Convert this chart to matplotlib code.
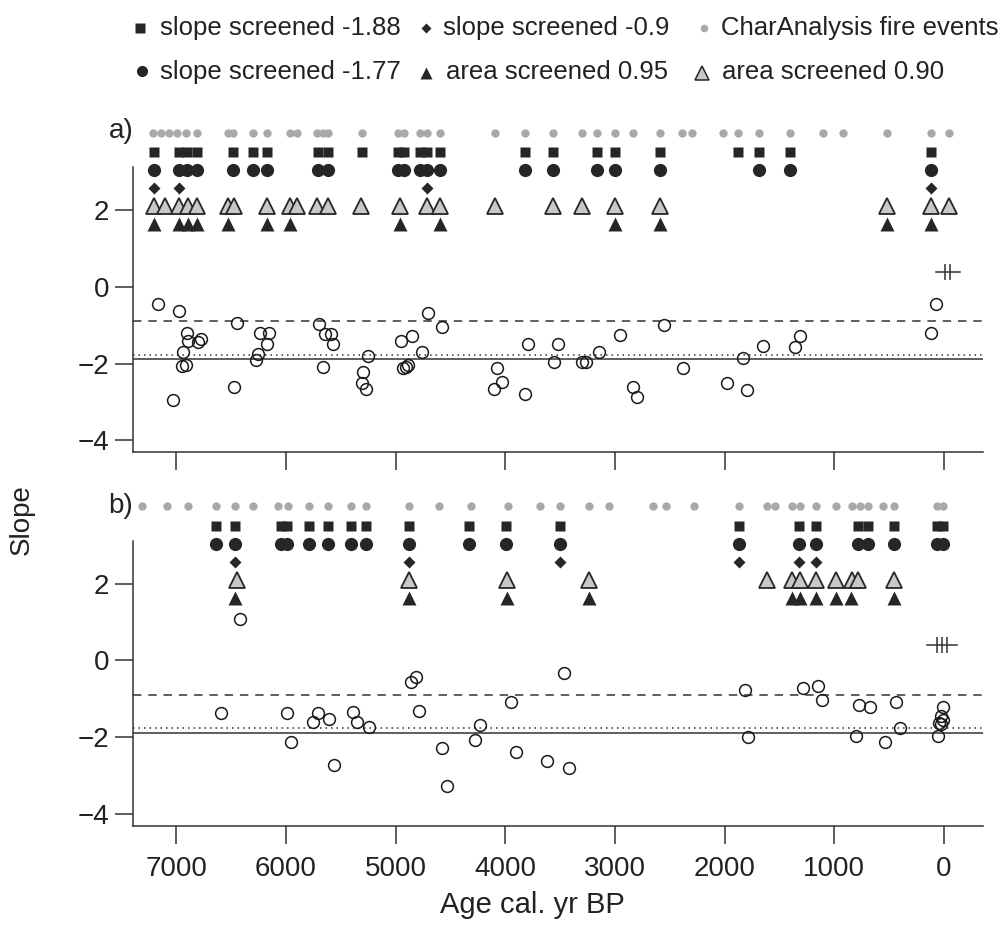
import matplotlib
matplotlib.use("Agg")
import matplotlib.pyplot as plt
from matplotlib.lines import Line2D

plt.rcParams['font.family'] = ['Liberation Sans', 'DejaVu Sans']

# ---- panel a) data (age cal. yr BP) ----
a_fire = [7208, 7138, 7065, 6989, 6913, 6807, 6524, 6479, 6296, 6174, 5962, 5895,
          5718, 5663, 5613, 5308, 4975, 4922, 4777, 4710, 4594, 4093, 3820, 3562,
          3303, 3160, 2999, 2838, 2589, 2391, 2300, 2017, 1881, 1686, 1404, 1106,
          918, 522, 119, -46]
a_slope188 = [7201, 6975, 6900, 6807, 6479, 6296, 6174, 5704, 5613, 5308, 4975, 4922,
              4777, 4710, 4594, 3820, 3562, 3160, 2999, 2589, 1881, 1686, 1404, 119]
a_slope177 = [7201, 6975, 6900, 6807, 6479, 6296, 6174, 5704, 5613, 4975, 4922, 4777,
              4710, 4594, 3820, 3562, 3160, 2999, 2589, 1686, 1404, 119]
a_slope09 = [7201, 6971, 4716, 119]
a_area090 = [7201, 7101, 6971, 6889, 6807, 6524, 6472, 6174, 5962, 5895, 5718, 5613,
             5317, 4959, 4716, 4594, 4093, 3562, 3303, 2999, 2589, 522, 119, -46]
a_area095 = [7201, 6971, 6889, 6807, 6524, 6174, 5962, 4959, 4594, 2999, 2589, 522, 119]
a_age = [7162, 6971, 7025, 6903, 6889, 6934, 6949, 6913, 6798, 6773,
         6448, 6469, 6235, 6150, 6168, 6251, 6272, 5697, 5643, 5591,
         5567, 5658, 5293, 5248, 5308, 5269, 4953, 4852, 4756, 4707,
         4579, 4929, 4904, 4883, 4072, 4032, 4099, 3820, 3789, 3516,
         3552, 3303, 3264, 3148, 2953, 2838, 2802, 2552, 2382, 1975,
         1835, 1793, 1647, 1358, 1313, 73, 119]
a_slope = [-0.45, -0.64, -2.96, -1.20, -1.42, -1.69, -2.07, -2.03, -1.44, -1.37,
           -0.93, -2.61, -1.20, -1.20, -1.50, -1.74, -1.91, -0.96, -1.24, -1.22,
           -1.50, -2.09, -2.22, -1.81, -2.52, -2.66, -1.42, -1.29, -1.69, -0.68,
           -1.04, -2.13, -2.09, -2.04, -2.11, -2.48, -2.67, -2.80, -1.48, -1.48,
           -1.96, -1.97, -1.96, -1.70, -1.26, -2.61, -2.87, -1.00, -2.11, -2.50,
           -1.85, -2.70, -1.54, -1.57, -1.29, -0.45, -1.20]
a_hash = [-9, -55]

# ---- panel b) data ----
b_fire = [7314, 7086, 6889, 6636, 6463, 6296, 6071, 5980, 5786, 5618, 5406, 5269,
          4874, 4601, 4312, 3977, 3683, 3500, 3233, 3054, 2655, 2534, 2276, 1866,
          1616, 1541, 1388, 1313, 1167, 985, 841, 766, 690, 553, 453, 67, 6]
b_slope188 = [6636, 6463, 6046, 5986, 5786, 5618, 5406, 5269, 4874, 4330, 3993, 3500,
              1866, 1319, 1167, 781, 690, 453, 67, 6]
b_slope177 = [6636, 6463, 6046, 5986, 5786, 5618, 5406, 5269, 4874, 4330, 3993, 3500,
              1866, 1319, 1167, 781, 690, 453, 67, 6]
b_slope09 = [6463, 4874, 3500, 1866, 1319, 1167]
b_area090 = [6448, 4874, 3987, 3233, 1616, 1388, 1313, 1167, 985, 841, 781, 453]
b_area095 = [6463, 4874, 3987, 3233, 1388, 1313, 1167, 985, 847, 453]
b_age = [6417, 6594, 5992, 5955, 5749, 5709, 5606, 5561, 5385, 5354,
         5239, 4862, 4816, 4783, 4579, 4533, 4275, 4230, 3950, 3902,
         3622, 3461, 3418, 1814, 1784, 1283, 1146, 1115, 775, 675,
         805, 538, 438, 401, 6, 30, 12, 43, 30, 52]
b_slope = [1.07, -1.38, -1.38, -2.13, -1.61, -1.38, -1.52, -2.73, -1.34, -1.61,
           -1.73, -0.55, -0.44, -1.31, -2.27, -3.27, -2.08, -1.69, -1.08, -2.40,
           -2.61, -0.33, -2.81, -0.77, -2.00, -0.71, -0.67, -1.04, -1.16, -1.22,
           -1.97, -2.13, -1.07, -1.77, -1.22, -1.45, -1.54, -1.62, -1.66, -1.97]
b_hash = [67, 21, -25]

thresholds = [-0.9, -1.77, -1.88]
xticks = [7000, 6000, 5000, 4000, 3000, 2000, 1000, 0]
yticks = [-4, -2, 0, 2]

# row heights for the event markers (above the scatter)
ROWS = {'fire': 4.02, 's188': 3.52, 's177': 3.04, 's09': 2.57, 'a090': 2.1, 'a095': 1.63}
HASH_Y = 0.4
DARK = '#262626'
GREY = '#a9a9a9'

W, H = 1002, 935
fig = plt.figure(figsize=(W / 100, H / 100), dpi=100)


def fx(px):
    return px / W


def fy(py):
    return 1 - py / H


def draw_panel(ax, fire, s188, s177, s09, a090, a095, age, slope, hashes, lab, lab_y):
    ax.set_xlim(7393, -355)
    ax.set_ylim(-4.31, 3.13)
    kw = dict(ls='none', clip_on=False)
    ax.plot(fire, [ROWS['fire']] * len(fire), 'o', ms=6, color=GREY, mec='none', **kw)
    ax.plot(s188, [ROWS['s188']] * len(s188), 's', ms=7.5, color=DARK, mec='none', **kw)
    ax.plot(s177, [ROWS['s177']] * len(s177), 'o', ms=9.5, color=DARK, mec='none', **kw)
    ax.plot(s09, [ROWS['s09']] * len(s09), 'D', ms=6.5, color=DARK, mec='none', **kw)
    ax.plot(a090, [ROWS['a090']] * len(a090), '^', ms=12, mfc='#c8c8c8', mec=DARK, mew=1.3, **kw)
    ax.plot(a095, [ROWS['a095']] * len(a095), '^', ms=9.5, color=DARK, mec='none', **kw)

    ax.axhline(thresholds[0], color='#333333', lw=1.1, ls=(0, (5.5, 4.5)))
    ax.axhline(thresholds[1], color='#333333', lw=1.1, ls=(0, (1, 2.6)))
    ax.axhline(thresholds[2], color='#333333', lw=1.1)

    ax.plot(age, slope, 'o', ms=8.5, mfc='none', mec='#1a1a1a', mew=1.1, **kw)

    # hash symbol near present
    ax.plot([max(hashes) + 85, min(hashes) - 90], [HASH_Y, HASH_Y], color='#333333', lw=1.1, clip_on=False)
    ax.plot(hashes, [HASH_Y] * len(hashes), '|', ms=12, mew=1.1, color='#333333', **kw)

    for side in ['top', 'right']:
        ax.spines[side].set_visible(False)
    for side in ['left', 'bottom']:
        ax.spines[side].set_linewidth(1.1)
        ax.spines[side].set_color('#333333')
    ax.set_xticks(xticks)
    ax.set_yticks(yticks)
    ax.tick_params(axis='both', direction='out', length=13, width=1.1, color='#333333',
                   labelsize=20, labelcolor='#222222')
    ax.tick_params(axis='y', pad=4)
    ax.tick_params(axis='x', pad=9)
    fig.text(fx(121), fy(lab_y), lab, fontsize=20, ha='center', va='center', color='#222222')


ax_a = fig.add_axes([fx(133), fy(452), fx(983) - fx(133), fy(167) - fy(452)])
ax_b = fig.add_axes([fx(133), fy(825.7), fx(983) - fx(133), fy(540.5) - fy(825.7)])

draw_panel(ax_a, a_fire, a_slope188, a_slope177, a_slope09, a_area090, a_area095,
           a_age, a_slope, a_hash, 'a)', 131)
draw_panel(ax_b, b_fire, b_slope188, b_slope177, b_slope09, b_area090, b_area095,
           b_age, b_slope, b_hash, 'b)', 506)
ax_a.tick_params(axis='x', labelbottom=False)

fig.text(fx(532), fy(905), 'Age cal. yr BP', fontsize=21, ha='center', va='center', color='#222222')
fig.text(fx(22), fy(520), 'Slope', fontsize=20, rotation=90, ha='center', va='center', color='#222222')

# legend, drawn by hand in two rows
legend_items = [
    (140, 28, 's', dict(ms=7, color=DARK, mec='none'), 160, 'slope screened -1.88'),
    (426, 28, 'D', dict(ms=5.5, color=DARK, mec='none'), 443, 'slope screened -0.9'),
    (704, 28, 'o', dict(ms=5.5, color=GREY, mec='none'), 721, 'CharAnalysis fire events'),
    (142, 71, 'o', dict(ms=8, color=DARK, mec='none'), 160, 'slope screened -1.77'),
    (426, 73, '^', dict(ms=8.5, color=DARK, mec='none'), 446, 'area screened 0.95'),
    (702, 73, '^', dict(ms=10, mfc='#c8c8c8', mec=DARK, mew=1.1), 722, 'area screened 0.90'),
]
for mx, my, mk, mkw, tx, label in legend_items:
    fig.add_artist(Line2D([fx(mx)], [fy(my)], marker=mk, ls='none',
                          transform=fig.transFigure, **mkw))
    fig.text(fx(tx), fy(my if my < 50 else 72), label, fontsize=18.5, ha='left', va='center',
             color='#222222')

fig.savefig('out.png', dpi=100)
